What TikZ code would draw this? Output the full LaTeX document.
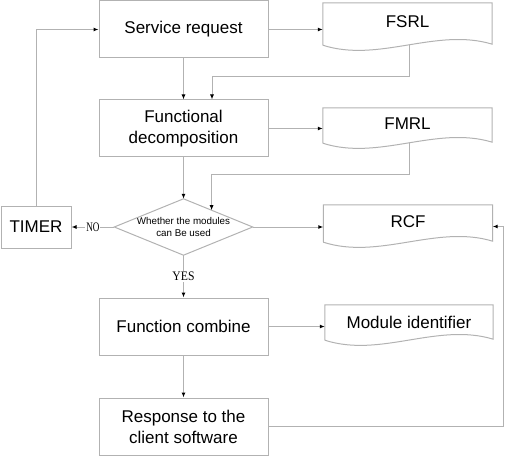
\documentclass[tikz,border=0pt]{standalone}
\usepackage{fontspec}
\usepackage{graphicx}
\setmainfont{Liberation Sans}
\newfontfamily\lblfont{Liberation Serif}
\usetikzlibrary{arrows.meta,calc}
\newcommand\docpath[1]{\draw[conn] (#1.south west) -- (#1.north west) -- (#1.north east) -- ([yshift=1pt]#1.south east) .. controls ($(#1.south east)+(-56,-18)$) and ($(#1.south west)+(56,18)$) .. (#1.south west);}
\newcommand\doctext[1]{\raisebox{4pt}{#1}}
\begin{document}
\begin{tikzpicture}[x=1pt,y=-1pt,
  box/.style={draw=gray!60,line width=1pt,minimum width=169pt,minimum height=57pt,align=center,inner sep=0pt,font=\fontsize{17}{21}\selectfont},
  docbox/.style={minimum width=169pt,inner sep=0pt,font=\fontsize{17}{21}\selectfont},
  conn/.style={draw=gray!60,line width=1pt},
  arr/.style={conn,-{Latex[length=5pt,width=4pt,color=black]}},
  lbl/.style={fill=white,inner sep=1pt,font=\lblfont\fontsize{13}{13}\selectfont}
]
\useasboundingbox (0,0) rectangle (511,457);

% process boxes
\node[box] (sr) at (183.5,29.5) {Service request};
\node[box] (fd) at (183.5,128.5) {Functional\\decomposition};
\node[box] (fc) at (183.5,326.5) {Function combine};
\node[box] (resp) at (183.5,426.5) {Response to the\\client software};
\node[box,minimum width=70pt,minimum height=42pt] (timer) at (36,227) {TIMER};

% decision
\node[inner sep=0pt,minimum width=138pt,minimum height=56pt,align=center,font=\fontsize{9.8}{12}\selectfont] (dec) at (183.5,227) {Whether the modules\\can Be used};
\draw[conn] (dec.north) -- (dec.east) -- (dec.south) -- (dec.west) -- cycle;

% documents
\node[docbox,minimum height=42pt] (fsrl) at (407.5,24) {\doctext{FSRL}};
\node[docbox,minimum height=35pt] (fmrl) at (407.5,125.5) {\doctext{FMRL}};
\node[docbox,minimum height=37pt] (rcf) at (408,223.5) {\doctext{RCF}};
\node[docbox,minimum width=168pt,minimum height=35pt] (mi) at (409,322.5) {Module identifier};
\docpath{fsrl}
\docpath{fmrl}
\docpath{rcf}
\docpath{mi}

% connectors
\draw[arr] (sr) -- (fd);
\draw[arr] (sr.east) -- (sr.east -| fsrl.west);
\draw[arr] ([xshift=1.5pt]fsrl.south) -- ++(0,31) -| ([xshift=28.5pt]fd.north);
\draw[arr] (fd) -- (dec);
\draw[arr] (fd.east) -- (fd.east -| fmrl.west);
\draw[arr] ([xshift=1.5pt]fmrl.south) -- ++(0,31) -| ($(dec.north)!0.406!(dec.east)$);
\draw[arr] (dec.east) -- (dec.east -| rcf.west);
\draw[arr] (dec.west) -- node[lbl]{\scalebox{0.7}[1]{NO}} (timer.east);
\draw[arr] (dec.south) -- node[lbl]{\scalebox{0.9}[1]{YES}} (fc.north);
\draw[arr] (timer.north) |- (sr.west);
\draw[arr] (fc.east) -- (fc.east -| mi.west);
\draw[arr] (fc) -- (resp);
\draw[arr] (resp.east) -- ++(235,0) |- ($(rcf.east)+(0,3)$);
\end{tikzpicture}
\end{document}
